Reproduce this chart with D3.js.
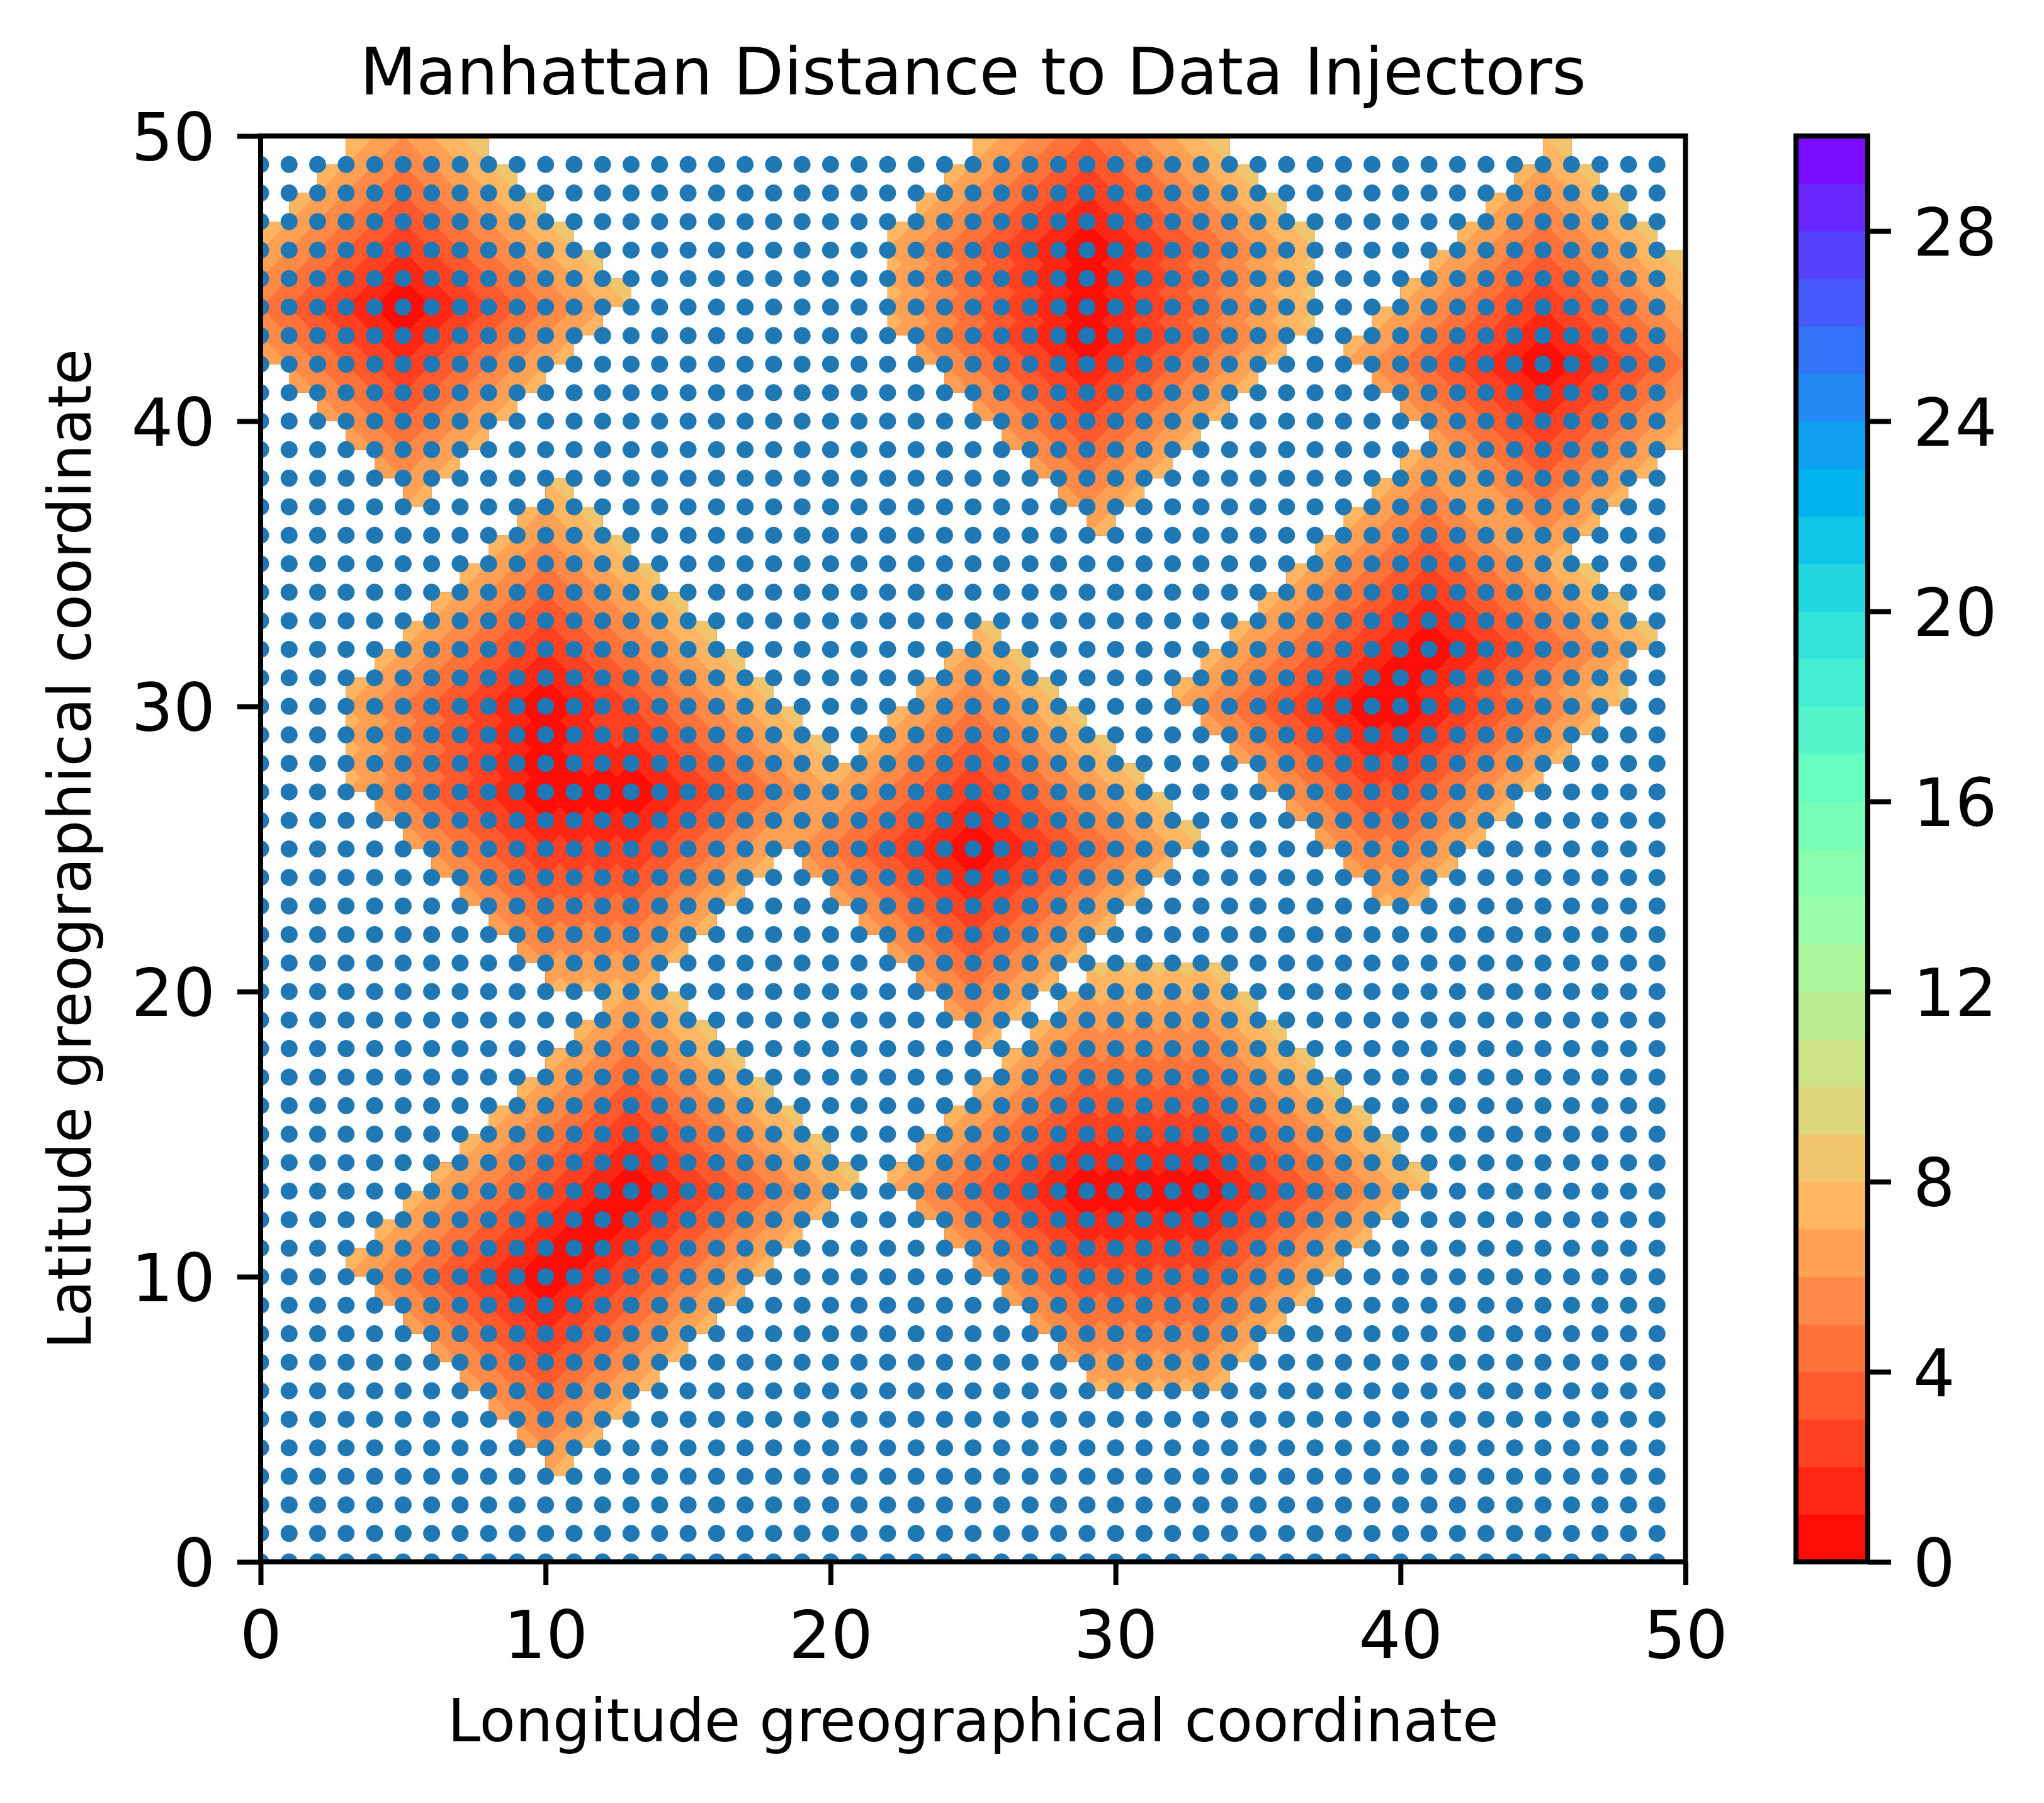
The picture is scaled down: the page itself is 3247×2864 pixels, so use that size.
<!DOCTYPE html>
<html>
<head>
<meta charset="utf-8">
<style>
  body { margin: 0; background: #fff; }
  svg { display: block; font-family: "DejaVu Sans", sans-serif; }
  .tick text { font-size: 105px; fill: #000; }
  .tick line { stroke: #000; stroke-width: 8px; }
</style>
</head>
<body>
<svg width="3247" height="2864"></svg>
<script src="https://d3js.org/d3.v7.min.js"></script>
<script>

  var injectorLon = [5, 29, 29, 29, 29, 45, 10, 10, 10, 10, 11, 12, 13, 25, 39, 40, 40, 41, 10, 11, 12, 13, 29, 30, 31, 32, 33];
  var injectorLat = [44, 43, 44, 45, 46, 42, 27, 28, 29, 30, 27, 27, 27, 25, 30, 30, 31, 32, 10, 11, 12, 13, 13, 13, 13, 13, 13];

  // lattice of the blue points
  var gridLon = d3.range(0, 50),
    gridLat = d3.range(0, 50);

  var levels = d3.range(0, 31),
    maxShownDistance = 7,
    axisTicks = [0, 10, 20, 30, 40, 50],
    barTicks = [0, 4, 8, 12, 16, 20, 24, 28];

  var svg = d3.select("svg");

  var x = d3.scaleLinear().domain([0, 50]).range([414, 2677.5]),
    y = d3.scaleLinear().domain([0, 50]).range([2481, 216]),
    yBar = d3.scaleLinear().domain([0, 30]).range([2481, 216]);

  function distance(lon, lat) {
    return d3.min(injectorLon, function (a, i) {
      return Math.abs(lon - a) + Math.abs(lat - injectorLat[i]);
    });
  }

  // matplotlib's rainbow_r, sampled the way a contourf layer picks its colour
  function bandColor(lower) {
    var index = Math.floor((lower + 0.5) / 30 * 256),
      t = (255 - index) / 255,
      clamp = function (v) { return Math.round(255 * Math.min(1, Math.max(0, v))); };
    return "rgb(" + clamp(Math.abs(2 * t - 0.5)) + "," + clamp(Math.sin(Math.PI * t)) + "," + clamp(Math.cos(Math.PI * t / 2)) + ")";
  }

  var defs = svg.append("defs");

  defs.append("clipPath").attr("id", "axes-clip")
    .append("rect")
    .attr("x", x(0)).attr("y", y(50))
    .attr("width", x(50) - x(0)).attr("height", y(0) - y(50));

  // only the cells close enough to an injector are coloured.
  // one path for all of them, separate rects leave hairlines at shared edges
  var cellPath = d3.path();
  gridLon.forEach(function (lon) {
    gridLat.forEach(function (lat) {
      if (distance(lon, lat) <= maxShownDistance) {
        cellPath.rect(x(lon), y(lat + 1), x(lon + 1) - x(lon), y(lat) - y(lat + 1));
      }
    });
  });

  defs.append("clipPath").attr("id", "cell-clip")
    .append("path")
    .attr("d", cellPath.toString());

  // distance field on a half unit mesh, contoured at the integer levels
  var perUnit = 2,
    n = 50 * perUnit + 1,
    field = new Array(n * n);
  d3.range(n).forEach(function (j) {
    d3.range(n).forEach(function (i) {
      field[j * n + i] = distance(i / perUnit, j / perUnit);
    });
  });

  var contours = d3.contours()
    .size([n, n])
    .thresholds(levels.slice(0, -1))(field);

  var path = d3.geoPath(d3.geoTransform({
    point: function (px, py) {
      this.stream.point(x((px - 0.5) / perUnit), y((py - 0.5) / perUnit));
    }
  }));

  svg.append("g")
    .attr("clip-path", "url(#cell-clip)")
    .selectAll("path")
    .data(contours)
    .enter().append("path")
    .attr("d", path)
    .attr("fill-rule", "evenodd")
    .attr("fill", function (d) { return bandColor(d.value); });

  var points = [];
  gridLon.forEach(function (lon) {
    gridLat.forEach(function (lat) { points.push([lon, lat]); });
  });

  svg.append("g")
    .attr("clip-path", "url(#axes-clip)")
    .selectAll("circle")
    .data(points)
    .enter().append("circle")
    .attr("cx", function (d) { return x(d[0]); })
    .attr("cy", function (d) { return y(d[1]); })
    .attr("r", 13.5)
    .attr("fill", "#1f77b4");

  var xAxis = svg.append("g")
    .attr("transform", "translate(0," + y(0) + ")")
    .call(d3.axisBottom(x).tickValues(axisTicks).tickSize(37).tickPadding(41).tickSizeOuter(0));

  var yAxis = svg.append("g")
    .attr("transform", "translate(" + x(0) + ",0)")
    .call(d3.axisLeft(y).tickValues(axisTicks).tickSize(37).tickPadding(35).tickSizeOuter(0));
  yAxis.selectAll("text").attr("dy", "0.365em");

  xAxis.select(".domain").remove();
  yAxis.select(".domain").remove();

  xAxis.attr("font-size", null).attr("font-family", null);
  yAxis.attr("font-size", null).attr("font-family", null);

  svg.append("rect")
    .attr("x", x(0)).attr("y", y(50))
    .attr("width", x(50) - x(0)).attr("height", y(0) - y(50))
    .attr("fill", "none")
    .attr("stroke", "#000")
    .attr("stroke-width", 8);

  // colour bar
  var barLeft = 2853,
    barRight = 2967;

  svg.append("g")
    .selectAll("rect")
    .data(levels.slice(0, -1))
    .enter().append("rect")
    .attr("x", barLeft)
    .attr("y", function (d) { return yBar(d + 1); })
    .attr("width", barRight - barLeft)
    .attr("height", function (d) { return yBar(d) - yBar(d + 1) + 0.5; })
    .attr("fill", bandColor);

  var barAxis = svg.append("g")
    .attr("transform", "translate(" + barRight + ",0)")
    .call(d3.axisRight(yBar).tickValues(barTicks).tickSize(37).tickPadding(35).tickSizeOuter(0));
  barAxis.select(".domain").remove();
  barAxis.attr("font-size", null).attr("font-family", null);
  barAxis.selectAll("text").attr("dy", "0.365em");

  svg.append("rect")
    .attr("x", barLeft).attr("y", yBar(30))
    .attr("width", barRight - barLeft).attr("height", yBar(0) - yBar(30))
    .attr("fill", "none")
    .attr("stroke", "#000")
    .attr("stroke-width", 8);

  svg.append("text")
    .attr("x", (x(0) + x(50)) / 2)
    .attr("y", 150)
    .attr("text-anchor", "middle")
    .attr("font-size", 104)
    .text("Manhattan Distance to Data Injectors");

  svg.append("text")
    .attr("x", (x(0) + x(50)) / 2)
    .attr("y", 2766)
    .attr("text-anchor", "middle")
    .attr("font-size", 93.6)
    .text("Longitude greographical coordinate");

  svg.append("text")
    .attr("transform", "translate(144," + (y(0) + y(50)) / 2 + ") rotate(-90)")
    .attr("text-anchor", "middle")
    .attr("font-size", 93.6)
    .text("Latitude greographical coordinate");

</script>
</body>
</html>
